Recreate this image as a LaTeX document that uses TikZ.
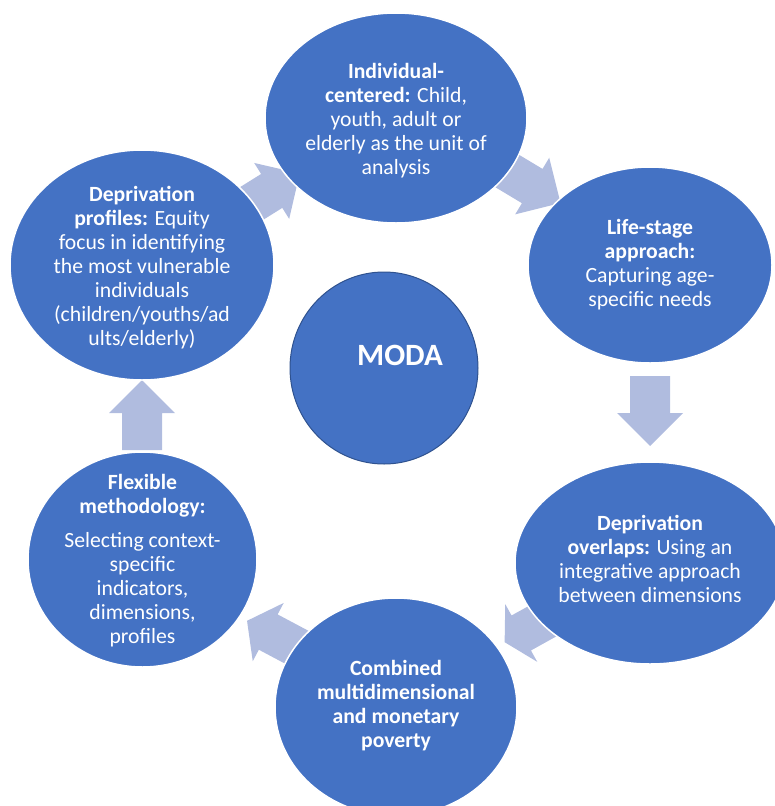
\documentclass[tikz,border=0pt]{standalone}
\usepackage{fontspec}
\setmainfont{Carlito}
\usetikzlibrary{shapes.geometric}

\definecolor{discblue}{RGB}{68,114,196}
\definecolor{discedge}{RGB}{47,82,143}
\definecolor{arrowfill}{RGB}{176,188,223}

% block arrow: centre (x,y), direction angle, head length
\newcommand\cyclearrow[4]{%
  \fill[arrowfill, shift={(#1,#2)}, rotate=#3]
    (-35,-20) -- (2,-20) -- (2,-33) -- ({2+#4},0) -- (2,33) -- (2,20) -- (-35,20) -- cycle;}

\begin{document}
\begin{tikzpicture}[x=1pt, y=-1pt,
  disc/.style={ellipse, fill=discblue, draw=white, line width=1.5pt, inner sep=0pt},
  disctext/.style={text=white, align=center, font=\fontsize{21.7}{24}\selectfont},
]
\useasboundingbox (0,0) rectangle (775,806);

% arrows between the stages (drawn under the discs)
\cyclearrow{270}{192}{32}{33}
\cyclearrow{530.5}{185}{-31}{33}
\cyclearrow{650}{411}{-90}{33}
\cyclearrow{523}{632}{209}{19}
\cyclearrow{270}{633}{152}{24}
\cyclearrow{142}{415}{90}{33}

% stage discs
\node[disc, minimum width=262pt, minimum height=210pt] (ind) at (396,118) {};
\node[disc, minimum width=244pt, minimum height=196pt] (life) at (650,265) {};
\node[disc, minimum width=270pt, minimum height=202pt] (over) at (650,563) {};
\node[disc, minimum width=242pt, minimum height=218pt] (comb) at (396,707) {};
\node[disc, minimum width=229pt, minimum height=215pt] (flex) at (142.5,559.5) {};
\node[disc, minimum width=264pt, minimum height=230pt] (prof) at (142,265) {};

% centre disc
\node[ellipse, fill=discblue, draw=discedge, line width=1pt, inner sep=0pt,
      minimum width=188pt, minimum height=192pt] (moda) at (384,368) {};

% texts
\node[disctext] (ind-t) at ([yshift=-2.5]ind.center) {\textbf{Individual-}\\\textbf{centered:} Child,\\youth, adult or\\elderly as the unit of\\analysis};
\node[disctext] (life-t) at ([yshift=0.5]life.center) {\textbf{Life-stage}\\\textbf{approach:}\\Capturing age-\\specific needs};
\node[disctext] (over-t) at ([yshift=4.5]over.center) {\textbf{Deprivation}\\\textbf{overlaps:} Using an\\integrative approach\\between dimensions};
\node[disctext] (comb-t) at ([yshift=1.5]comb.center) {\textbf{Combined}\\\textbf{multidimensional}\\\textbf{and monetary}\\\textbf{poverty}};
\node[disctext] (flex-t) at ([yshift=-1]flex.center) {\textbf{Flexible}\\\textbf{methodology:}\\[10pt]Selecting context-\\specific\\indicators,\\dimensions,\\profiles};
\node[disctext] (prof-t) at ([yshift=-2.5]prof.center) {\textbf{Deprivation}\\\textbf{profiles:} Equity\\focus in identifying\\the most vulnerable\\individuals\\(children/youths/ad\\ults/elderly)};
\node[text=white, font=\fontsize{31}{36}\selectfont\bfseries] (moda-t) at (400,355) {MODA};
\end{tikzpicture}
\end{document}
